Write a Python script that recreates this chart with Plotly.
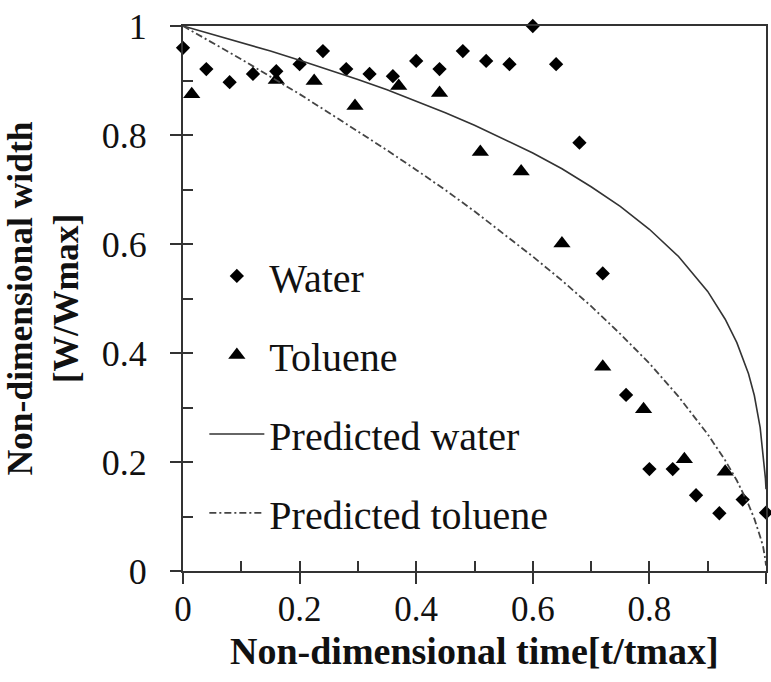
import plotly.graph_objects as go

water_t = [0.0, 0.04, 0.08, 0.12, 0.16, 0.20, 0.24, 0.28, 0.32, 0.36, 0.40, 0.44, 0.48,
           0.52, 0.56, 0.60, 0.64, 0.68, 0.72, 0.76, 0.80, 0.84, 0.88, 0.92, 0.96, 1.0]
water_w = [0.960, 0.921, 0.897, 0.912, 0.917, 0.930, 0.954, 0.921, 0.912, 0.908, 0.936, 0.921, 0.954,
           0.936, 0.930, 1.000, 0.930, 0.786, 0.546, 0.323, 0.187, 0.187, 0.139, 0.106, 0.131, 0.107]

toluene_t = [0.015, 0.16, 0.225, 0.295, 0.37, 0.44, 0.51, 0.58, 0.65, 0.72, 0.79, 0.86, 0.93]
toluene_w = [0.875, 0.901, 0.899, 0.853, 0.890, 0.877, 0.769, 0.733, 0.601, 0.375, 0.297, 0.205, 0.182]

# Predicted curves
pred_t = [0.0, 0.05, 0.1, 0.15, 0.2, 0.25, 0.3, 0.35, 0.4, 0.45, 0.5, 0.55, 0.6, 0.65,
          0.7, 0.75, 0.8, 0.85, 0.9, 0.93, 0.95, 0.97, 0.98, 0.99, 0.995, 0.999, 1.0]
pred_water = [1.0, 0.985, 0.970, 0.954, 0.937, 0.920, 0.902, 0.883, 0.862, 0.841, 0.818, 0.793,
              0.767, 0.738, 0.705, 0.669, 0.627, 0.577, 0.513, 0.462, 0.419, 0.362, 0.322, 0.263,
              0.215, 0.17, 0.15]
pred_toluene = [1.0, 0.970, 0.939, 0.907, 0.875, 0.841, 0.807, 0.772, 0.736, 0.699, 0.660, 0.619,
                0.577, 0.533, 0.486, 0.435, 0.381, 0.320, 0.251, 0.203, 0.166, 0.122, 0.096, 0.063,
                0.045, 0.02, 0.01]

x_ticks = [0, 0.2, 0.4, 0.6, 0.8, 1]
x_tick_labels = ["0", "0.2", "0.4", "0.6", "0.8", "1"]
y_ticks = [0, 0.2, 0.4, 0.6, 0.8, 1]
y_tick_labels = ["0", "0.2", "0.4", "0.6", "0.8", "1"]

x_title = "Non-dimensional time[t/tmax]"
y_title = "Non-dimensional width<br>[W/Wmax]"

FONT = "Liberation Serif, Times New Roman, serif"
AX = "#333333"
TXT = "#111111"

fig = go.Figure()
fig.add_trace(go.Scatter(x=water_t, y=water_w, mode="markers", name="Water",
                         legendgroup="a",
                         marker=dict(symbol="diamond", size=11, color="black"),
                         cliponaxis=False))
fig.add_trace(go.Scatter(x=toluene_t, y=toluene_w, mode="markers", name="Toluene",
                         legendgroup="b",
                         marker=dict(symbol="triangle-up", size=15, color="black"),
                         cliponaxis=False))
fig.add_trace(go.Scatter(x=pred_t, y=pred_water, mode="lines", name="Predicted water",
                         legendgroup="c",
                         line=dict(color="#333333", width=1.6)))
fig.add_trace(go.Scatter(x=pred_t, y=pred_toluene, mode="lines", name="Predicted toluene",
                         legendgroup="d",
                         line=dict(color="#444444", width=1.8, dash="7px,3px,2px,3px")))
# invisible trace so that the overlay axes (inside ticks) are drawn
fig.add_trace(go.Scatter(x=[None], y=[None], xaxis="x2", yaxis="y2", mode="markers",
                         showlegend=False, hoverinfo="skip"))

fig.update_layout(
    width=771, height=682,
    margin=dict(l=183, r=3, t=26, b=111),
    paper_bgcolor="white", plot_bgcolor="white",
    font=dict(family=FONT, color=TXT, size=36),
    showlegend=True,
    legend=dict(x=0.0366, y=0.601, xanchor="left", yanchor="top",
                font=dict(family=FONT, size=40, color=TXT),
                bgcolor="rgba(0,0,0,0)", itemwidth=55, tracegroupgap=24,
                traceorder="grouped"),
    xaxis=dict(range=[0, 1], tickvals=x_ticks, ticktext=x_tick_labels,
               showgrid=False, zeroline=False, showline=True, linecolor=AX, linewidth=2,
               mirror=True, ticks="outside", ticklen=11, tickwidth=2, tickcolor=AX,
               tickfont=dict(family=FONT, size=35, color=TXT),
               ticklabelstandoff=-5),
    yaxis=dict(range=[0, 1], tickvals=y_ticks, ticktext=y_tick_labels,
               showgrid=False, zeroline=False, showline=True, linecolor=AX, linewidth=2,
               mirror=True, ticks="outside", ticklen=11, tickwidth=2, tickcolor=AX,
               tickfont=dict(family=FONT, size=36, color=TXT),
               ticklabelstandoff=16,
               title=dict(text=y_title, standoff=15,
                          font=dict(family=FONT, size=35.5, color=TXT, weight="bold"))),
    xaxis2=dict(range=[0, 1], overlaying="x", anchor="y", side="bottom", dtick=0.1, tick0=0,
                showticklabels=False, showgrid=False, zeroline=False, showline=False,
                ticks="inside", ticklen=10, tickwidth=2, tickcolor=AX),
    yaxis2=dict(range=[0, 1], overlaying="y", anchor="x", side="left", dtick=0.1, tick0=0,
                showticklabels=False, showgrid=False, zeroline=False, showline=False,
                ticks="inside", ticklen=10, tickwidth=2, tickcolor=AX),
    annotations=[dict(text=x_title, xref="paper", yref="paper", x=0.5, y=0,
                      xanchor="center", yanchor="top", yshift=-57, showarrow=False,
                      font=dict(family=FONT, size=38, color=TXT, weight="bold"))],
)

fig.write_html("out.html")
